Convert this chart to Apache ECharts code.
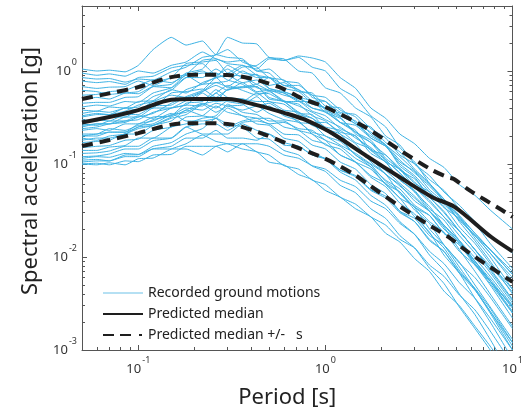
<!DOCTYPE html>
<html>
<head>
<meta charset="utf-8">
<script src="https://cdn.jsdelivr.net/npm/echarts@6/dist/echarts.min.js"></script>
<style>
html,body{margin:0;padding:0;background:#fff;}
#chart{width:526px;height:417px;}
</style>
</head>
<body>
<div id="chart"></div>
<script>
// ---------- data ----------
const periods = [0.05,0.06,0.07,0.085,0.1,0.12,0.15,0.18,0.22,0.26,0.3,0.36,0.43,0.5,0.6,0.72,0.85,1.0,1.2,1.45,1.75,2.1,2.5,3.0,3.6,4.3,5.2,6.3,7.6,10];

const rec01 = [1.05,1.0,1.02,0.98,1.15,1.7,2.3,1.9,2.1,1.5,1.7,1.25,1.1,0.85,0.8,0.62,0.55,0.38,0.32,0.21,0.17,0.11,0.08,0.05,0.035,0.022,0.015,0.009,0.0055,0.003];
const rec02 = [0.95,0.9,0.93,0.88,1.0,0.95,1.15,1.25,1.6,1.35,1.25,1.3,1.0,1.05,0.78,0.74,0.52,0.47,0.33,0.29,0.19,0.155,0.1,0.075,0.05,0.037,0.025,0.017,0.011,0.006];
const rec03 = [0.85,0.82,0.83,0.76,0.82,0.8,0.98,1.1,1.4,1.5,2.3,2.0,1.95,1.4,1.35,1.0,0.95,0.66,0.58,0.4,0.32,0.2,0.16,0.1,0.075,0.05,0.036,0.024,0.017,0.011];
const rec04 = [0.78,0.75,0.77,0.72,0.85,0.88,1.08,1.15,1.2,0.9,1.05,0.85,0.92,0.7,0.75,0.6,0.58,0.42,0.4,0.28,0.25,0.17,0.135,0.088,0.062,0.04,0.027,0.016,0.01,0.0045];
const rec05 = [0.68,0.65,0.67,0.68,0.78,0.7,0.85,0.92,1.3,1.35,1.2,1.15,1.05,1.35,1.3,1.4,1.1,1.0,0.65,0.52,0.33,0.25,0.15,0.105,0.062,0.042,0.024,0.015,0.009,0.004];
const rec06 = [0.62,0.6,0.56,0.58,0.57,0.68,0.66,0.85,0.85,1.05,0.9,1.1,1.15,1.4,1.3,1.45,1.38,1.25,0.85,0.65,0.4,0.31,0.21,0.165,0.115,0.092,0.06,0.046,0.032,0.02];
const rec07 = [0.5,0.52,0.5,0.58,0.6,0.75,0.85,1.2,1.25,1.3,0.95,1.15,0.9,0.85,0.65,0.6,0.45,0.4,0.28,0.23,0.14,0.105,0.068,0.05,0.031,0.021,0.012,0.007,0.004,0.0018];
const rec08 = [0.45,0.46,0.46,0.52,0.53,0.68,0.72,0.95,1.05,1.5,1.4,1.35,1.0,0.95,0.7,0.7,0.55,0.52,0.38,0.32,0.21,0.16,0.095,0.072,0.044,0.031,0.019,0.012,0.0075,0.0035];
const rec09 = [0.41,0.43,0.42,0.47,0.46,0.58,0.66,0.9,0.72,0.75,0.78,1.0,0.85,0.85,0.7,0.63,0.48,0.47,0.36,0.34,0.24,0.19,0.125,0.1,0.068,0.052,0.033,0.023,0.014,0.0075];
const rec10 = [0.38,0.37,0.41,0.4,0.47,0.48,0.63,0.58,0.75,0.85,1.15,0.95,0.9,0.65,0.58,0.47,0.47,0.36,0.31,0.22,0.18,0.115,0.088,0.056,0.041,0.027,0.019,0.012,0.008,0.0042];
const rec11 = [0.35,0.37,0.36,0.4,0.41,0.53,0.62,0.85,0.95,0.95,0.8,0.72,0.58,0.57,0.47,0.44,0.33,0.29,0.21,0.165,0.105,0.078,0.048,0.034,0.02,0.0135,0.0078,0.0045,0.0025,0.001];
const rec12 = [0.32,0.34,0.34,0.4,0.38,0.47,0.48,0.63,0.72,0.85,0.66,0.68,0.72,0.85,0.6,0.53,0.4,0.37,0.28,0.26,0.19,0.155,0.105,0.083,0.053,0.039,0.025,0.017,0.011,0.0055];
const rec13 = [0.3,0.29,0.32,0.32,0.38,0.4,0.58,0.6,0.64,0.52,0.63,0.66,0.68,0.5,0.47,0.35,0.34,0.24,0.21,0.14,0.115,0.077,0.06,0.04,0.031,0.02,0.0145,0.0085,0.0052,0.0025];
const rec14 = [0.28,0.3,0.29,0.34,0.34,0.42,0.43,0.53,0.62,0.85,0.9,0.88,0.66,0.62,0.47,0.47,0.37,0.33,0.24,0.2,0.13,0.105,0.067,0.052,0.033,0.025,0.015,0.009,0.0055,0.0025];
const rec15 = [0.27,0.26,0.29,0.29,0.33,0.31,0.4,0.43,0.58,0.47,0.48,0.47,0.58,0.47,0.44,0.34,0.31,0.25,0.23,0.17,0.145,0.105,0.088,0.062,0.05,0.034,0.026,0.017,0.012,0.007];
const rec16 = [0.25,0.27,0.27,0.32,0.32,0.4,0.4,0.43,0.42,0.58,0.47,0.44,0.36,0.42,0.33,0.29,0.21,0.18,0.125,0.105,0.072,0.057,0.038,0.029,0.018,0.0125,0.0072,0.0045,0.0026,0.0011];
const rec17 = [0.23,0.24,0.23,0.27,0.27,0.32,0.33,0.45,0.47,0.63,0.52,0.5,0.47,0.47,0.38,0.36,0.28,0.28,0.22,0.2,0.14,0.125,0.086,0.069,0.046,0.035,0.021,0.014,0.0085,0.0045];
const rec18 = [0.21,0.21,0.24,0.23,0.26,0.27,0.34,0.36,0.44,0.36,0.42,0.43,0.53,0.4,0.37,0.28,0.27,0.2,0.175,0.125,0.098,0.065,0.05,0.032,0.023,0.0135,0.0088,0.005,0.0029,0.0013];
const rec19 = [0.2,0.2,0.22,0.22,0.27,0.29,0.35,0.29,0.29,0.31,0.4,0.33,0.31,0.27,0.28,0.24,0.23,0.18,0.155,0.115,0.093,0.067,0.054,0.036,0.028,0.018,0.0135,0.0085,0.0055,0.0029];
const rec20 = [0.19,0.18,0.2,0.21,0.25,0.26,0.31,0.34,0.44,0.48,0.63,0.67,0.68,0.52,0.47,0.36,0.31,0.23,0.185,0.125,0.093,0.06,0.043,0.027,0.0185,0.0105,0.0067,0.0036,0.002,0.0008];
const rec21 = [0.17,0.175,0.18,0.21,0.21,0.26,0.29,0.38,0.33,0.31,0.25,0.29,0.31,0.31,0.25,0.23,0.18,0.165,0.125,0.104,0.075,0.062,0.043,0.035,0.024,0.0185,0.0115,0.0082,0.005,0.0022];
const rec22 = [0.15,0.155,0.158,0.18,0.185,0.23,0.25,0.32,0.33,0.42,0.36,0.33,0.27,0.26,0.19,0.175,0.135,0.113,0.082,0.067,0.046,0.036,0.024,0.0175,0.0105,0.0072,0.004,0.0024,0.0013,0.0005];
const rec23 = [0.14,0.14,0.152,0.158,0.19,0.19,0.25,0.27,0.31,0.33,0.44,0.36,0.34,0.29,0.29,0.23,0.21,0.16,0.145,0.105,0.088,0.061,0.05,0.034,0.028,0.018,0.0135,0.0082,0.0055,0.0026];
const rec24 = [0.13,0.132,0.138,0.155,0.155,0.19,0.19,0.25,0.27,0.27,0.23,0.28,0.29,0.27,0.21,0.205,0.16,0.145,0.105,0.088,0.06,0.048,0.031,0.024,0.015,0.0115,0.0067,0.0044,0.0026,0.0012];
const rec25 = [0.12,0.122,0.128,0.145,0.145,0.178,0.19,0.25,0.21,0.21,0.21,0.27,0.23,0.21,0.16,0.155,0.125,0.113,0.086,0.075,0.053,0.045,0.031,0.026,0.017,0.0135,0.0086,0.006,0.0037,0.0017];
const rec26 = [0.115,0.12,0.118,0.13,0.127,0.155,0.17,0.21,0.24,0.31,0.27,0.25,0.19,0.185,0.14,0.125,0.095,0.083,0.059,0.049,0.033,0.026,0.017,0.0125,0.0076,0.0052,0.0029,0.0017,0.001,0.0004];
const rec27 = [0.11,0.112,0.108,0.125,0.126,0.146,0.155,0.19,0.19,0.23,0.19,0.19,0.18,0.21,0.17,0.155,0.125,0.115,0.086,0.073,0.052,0.043,0.03,0.024,0.0155,0.0115,0.0069,0.0046,0.0028,0.0012];
const rec28 = [0.105,0.108,0.108,0.12,0.12,0.145,0.145,0.145,0.125,0.155,0.165,0.165,0.135,0.125,0.096,0.088,0.067,0.06,0.044,0.037,0.027,0.022,0.0155,0.0125,0.0082,0.0062,0.0039,0.0027,0.0016,0.0007];
const rec29 = [0.1,0.102,0.098,0.108,0.106,0.125,0.127,0.155,0.155,0.155,0.135,0.165,0.165,0.155,0.125,0.115,0.096,0.088,0.067,0.057,0.04,0.033,0.023,0.0175,0.0115,0.0085,0.0053,0.0036,0.0022,0.001];
const rec30 = [0.1,0.098,0.103,0.098,0.114,0.116,0.145,0.165,0.205,0.175,0.165,0.145,0.135,0.105,0.098,0.077,0.068,0.052,0.044,0.033,0.027,0.018,0.0145,0.0096,0.007,0.0043,0.003,0.0018,0.0011,0.0005];
const rec31 = [0.55,0.56,0.6,0.62,0.7,0.8,0.75,0.9,1.0,0.85,0.9,0.75,0.8,0.65,0.6,0.52,0.48,0.4,0.35,0.27,0.22,0.16,0.12,0.085,0.06,0.042,0.028,0.018,0.012,0.0065];
const rec32 = [0.33,0.35,0.34,0.37,0.43,0.47,0.55,0.52,0.6,0.7,0.62,0.75,0.6,0.62,0.55,0.5,0.44,0.4,0.33,0.27,0.2,0.16,0.11,0.08,0.058,0.04,0.027,0.018,0.012,0.0065];
const rec33 = [0.24,0.25,0.27,0.28,0.32,0.35,0.45,0.52,0.48,0.58,0.7,0.62,0.55,0.6,0.48,0.42,0.36,0.3,0.25,0.19,0.15,0.11,0.08,0.056,0.039,0.027,0.017,0.011,0.0068,0.0032];
const rec34 = [0.18,0.19,0.19,0.21,0.24,0.26,0.32,0.38,0.45,0.4,0.48,0.5,0.42,0.45,0.36,0.32,0.26,0.23,0.18,0.15,0.11,0.085,0.062,0.045,0.031,0.022,0.014,0.009,0.0058,0.0028];
const rec35 = [0.26,0.27,0.27,0.29,0.3,0.36,0.4,0.48,0.6,0.75,0.68,0.85,0.72,0.62,0.58,0.48,0.4,0.36,0.28,0.22,0.17,0.125,0.09,0.064,0.044,0.03,0.019,0.012,0.0072,0.0034];
const rec36 = [0.2,0.21,0.22,0.22,0.25,0.3,0.33,0.4,0.38,0.45,0.42,0.38,0.42,0.35,0.3,0.28,0.22,0.2,0.16,0.13,0.1,0.078,0.058,0.043,0.031,0.022,0.015,0.0098,0.0062,0.003];

const recorded = [rec01,rec02,rec03,rec04,rec05,rec06,rec07,rec08,rec09,rec10,rec11,rec12,rec13,rec14,rec15,rec16,rec17,rec18,rec19,rec20,rec21,rec22,rec23,rec24,rec25,rec26,rec27,rec28,rec29,rec30,rec31,rec32,rec33,rec34,rec35,rec36];

const medianPeriods = [0.05,0.07,0.1,0.15,0.2,0.3,0.43,0.6,0.76,0.96,1.12,1.66,2.5,3.72,4.9,7.7,10];
const medianValues  = [0.28,0.32,0.38,0.49,0.50,0.50,0.43,0.355,0.305,0.245,0.206,0.122,0.072,0.044,0.0346,0.0164,0.0115];

const upperPeriods = [0.05,0.07,0.1,0.15,0.2,0.3,0.43,0.6,0.76,1.0,1.115,1.66,2.5,3.72,4.52,4.86,5.9,8.77,10];
const upperValues  = [0.50,0.575,0.67,0.86,0.91,0.905,0.80,0.64,0.50,0.41,0.37,0.244,0.141,0.086,0.072,0.069,0.052,0.032,0.027];

const lowerPeriods = [0.05,0.07,0.1,0.15,0.2,0.3,0.43,0.65,0.96,1.115,1.44,1.72,2.5,3.72,4.56,5.75,10];
const lowerValues  = [0.156,0.181,0.215,0.265,0.275,0.27,0.223,0.16,0.118,0.102,0.076,0.059,0.035,0.021,0.0164,0.0114,0.0054];

const xMajorTicks = [0.1,1,10];
const xMinorTicks = [0.05,0.06,0.07,0.08,0.09,0.2,0.3,0.4,0.5,0.6,0.7,0.8,0.9,2,3,4,5,6,7,8,9];
const yMajorTicks = [0.001,0.01,0.1,1];
const yMinorTicks = [0.002,0.003,0.004,0.005,0.006,0.007,0.008,0.009,0.02,0.03,0.04,0.05,0.06,0.07,0.08,0.09,0.2,0.3,0.4,0.5,0.6,0.7,0.8,0.9,2,3,4,5];

const labelRecorded = 'Recorded ground motions';
const labelMedian = 'Predicted median';
const labelSigma = 'Predicted median +/-   s';

// ---------- chart ----------
const FONT = '"Noto Sans", "DejaVu Sans", sans-serif';
const AXIS_COLOR = '#555';
const X_MIN = 0.05, X_MAX = 10, Y_MIN = 0.001, Y_MAX = 5;

function powLabel(v){
  const e = Math.round(Math.log10(v));
  return '{b|10}{e|' + e + '}';
}
const richLabel = {
  b: {fontSize: 13, fontFamily: FONT, color: '#333', lineHeight: 26, verticalAlign: 'middle'},
  e: {fontSize: 9, fontFamily: FONT, color: '#333', verticalAlign: 'top', padding: [0,0,0,1]}
};

function xAxisDef(position, major, withLabel){
  return {
    type: 'log', logBase: 10, min: X_MIN, max: X_MAX, position: position, gridIndex: 0,
    axisLine: {show: major, lineStyle: {color: AXIS_COLOR, width: 1}},
    axisTick: {show: true, inside: true, length: major ? 5 : 3,
      customValues: major ? xMajorTicks : xMinorTicks,
      lineStyle: {color: AXIS_COLOR, width: 1}},
    axisLabel: withLabel ? {show: true, customValues: xMajorTicks, formatter: powLabel, rich: richLabel, margin: 6} : {show: false},
    splitLine: {show: false}, minorTick: {show: false}, minorSplitLine: {show: false}
  };
}
function yAxisDef(position, major, withLabel){
  return {
    type: 'log', logBase: 10, min: Y_MIN, max: Y_MAX, position: position, gridIndex: 0,
    axisLine: {show: major, lineStyle: {color: AXIS_COLOR, width: 1}},
    axisTick: {show: true, inside: true, length: major ? 5 : 3,
      customValues: major ? yMajorTicks : yMinorTicks,
      lineStyle: {color: AXIS_COLOR, width: 1}},
    axisLabel: withLabel ? {show: true, customValues: yMajorTicks, formatter: powLabel, rich: richLabel, margin: 5} : {show: false},
    splitLine: {show: false}, minorTick: {show: false}, minorSplitLine: {show: false}
  };
}

const xAxes = [
  Object.assign(xAxisDef('bottom', true, true), {
    name: 'Period [s]', nameLocation: 'middle', nameGap: 37,
    nameTextStyle: {fontFamily: FONT, fontSize: 22, color: '#222', padding: [0,20,0,0]}
  }),
  xAxisDef('bottom', false, false),
  xAxisDef('top', true, false),
  xAxisDef('top', false, false)
];
const yAxes = [
  Object.assign(yAxisDef('left', true, true), {
    name: 'Spectral acceleration [g]', nameLocation: 'middle', nameGap: 38, nameRotate: 90,
    nameTextStyle: {fontFamily: FONT, fontSize: 22, color: '#222', padding: [0,0,0,14]}
  }),
  yAxisDef('left', false, false),
  yAxisDef('right', true, false),
  yAxisDef('right', false, false)
];

const BLUE = '#3cb2e4';
const BLACK = '#1e1e1e';

const series = [];
recorded.forEach(function(vals){
  series.push({
    type: 'line', name: labelRecorded, xAxisIndex: 0, yAxisIndex: 0,
    data: periods.map(function(p, i){ return [p, vals[i]]; }),
    symbol: 'none', showSymbol: false, smooth: 0.15, clip: true, silent: true,
    lineStyle: {color: BLUE, width: 1}, itemStyle: {color: BLUE}
  });
});
series.push({
  type: 'line', name: labelMedian, xAxisIndex: 0, yAxisIndex: 0,
  data: medianPeriods.map(function(p, i){ return [p, medianValues[i]]; }),
  symbol: 'none', showSymbol: false, smooth: 0.3, clip: true, silent: true,
  lineStyle: {color: BLACK, width: 4}, itemStyle: {color: BLACK}
});
series.push({
  type: 'line', name: labelSigma, xAxisIndex: 0, yAxisIndex: 0,
  data: upperPeriods.map(function(p, i){ return [p, upperValues[i]]; }),
  symbol: 'none', showSymbol: false, smooth: 0.3, clip: true, silent: true,
  lineStyle: {color: BLACK, width: 4, type: [11, 7]}, itemStyle: {color: BLACK}
});
series.push({
  type: 'line', name: labelSigma, xAxisIndex: 0, yAxisIndex: 0,
  data: lowerPeriods.map(function(p, i){ return [p, lowerValues[i]]; }),
  symbol: 'none', showSymbol: false, smooth: 0.3, clip: true, silent: true,
  lineStyle: {color: BLACK, width: 4, type: [11, 7]}, itemStyle: {color: BLACK}
});

const chart = echarts.init(document.getElementById('chart'), null, {renderer: 'canvas', width: 526, height: 417});
chart.setOption({
  animation: false,
  backgroundColor: '#fff',
  grid: {left: 82, right: 5, top: 6, bottom: 67, containLabel: false},
  legend: {
    data: [
      {name: labelRecorded, lineStyle: {color: '#9dd6ef', width: 1.5}},
      {name: labelMedian},
      {name: labelSigma, lineStyle: {type: [11, 6, 11, 8, 3, 20]}}
    ],
    orient: 'vertical', left: 97, top: 281,
    itemWidth: 40, itemHeight: 14, itemGap: 7,
    selectedMode: false,
    itemStyle: {opacity: 0, borderWidth: 0},
    textStyle: {fontFamily: FONT, fontSize: 14, color: '#222'}
  },
  xAxis: xAxes,
  yAxis: yAxes,
  series: series
});
</script>
</body>
</html>
